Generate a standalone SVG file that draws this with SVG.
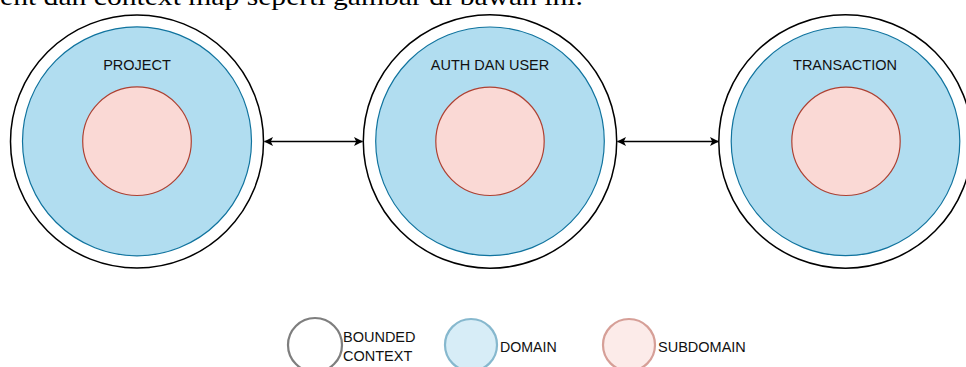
<svg xmlns="http://www.w3.org/2000/svg" width="966" height="367" viewBox="0 0 966 367">
<style>
.bc{fill:#ffffff;stroke:#000000;stroke-width:1.5}
.dom{fill:#b1ddf0;stroke:#10739e;stroke-width:1.2}
.sub{fill:#fad9d5;stroke:#ae4132;stroke-width:1.2}
.lbl{font-family:"Liberation Sans",Arial,sans-serif;font-size:14.5px;fill:#111111}
.conn{stroke:#000000;stroke-width:1.3;fill:none}
.leg{opacity:0.5}
</style>
<defs>
<marker id="arr" viewBox="0 0 10 10" refX="9.5" refY="5" markerWidth="9" markerHeight="9" markerUnits="userSpaceOnUse" orient="auto-start-reverse">
<path d="M0,0 L10,5 L0,10 L2.5,5 Z" fill="#000000"/>
</marker>
</defs>
<rect width="966" height="367" fill="#ffffff"/>
<text x="0" y="5" font-family="'Liberation Serif','Times New Roman',serif" font-size="25" fill="#000000" textLength="583" lengthAdjust="spacingAndGlyphs">ent dan context map seperti gambar di bawah ini.</text>
<g id="project">
<circle class="bc" cx="137" cy="141.5" r="126.5"/>
<circle class="dom" cx="137" cy="141.3" r="114.5"/>
<circle class="sub" cx="137" cy="141.2" r="54.3"/>
<text class="lbl" x="137" y="69.5" text-anchor="middle">PROJECT</text>
</g>
<g id="auth">
<circle class="bc" cx="490" cy="141.5" r="126.7"/>
<circle class="dom" cx="490" cy="141.3" r="114.3"/>
<circle class="sub" cx="490" cy="141.3" r="54.2"/>
<text class="lbl" x="490" y="69.5" text-anchor="middle">AUTH DAN USER</text>
</g>
<g id="transaction">
<circle class="bc" cx="845.5" cy="141.5" r="126.7"/>
<circle class="dom" cx="845.5" cy="141.3" r="114.3"/>
<circle class="sub" cx="846" cy="141.3" r="54.2"/>
<text class="lbl" x="845" y="69.5" text-anchor="middle">TRANSACTION</text>
</g>
<g id="connectors">
<line class="conn" x1="264.5" y1="141.5" x2="362.5" y2="141.5" marker-start="url(#arr)" marker-end="url(#arr)"/>
<line class="conn" x1="617.5" y1="141.5" x2="718.5" y2="141.5" marker-start="url(#arr)" marker-end="url(#arr)"/>
</g>
<g id="legend-bounded">
<circle class="bc leg" cx="315" cy="345" r="27" style="stroke-width:2.2"/>
<text class="lbl" x="343" y="341.5" style="font-size:14.5px">BOUNDED</text>
<text class="lbl" x="343" y="360.5" style="font-size:14.5px">CONTEXT</text>
</g>
<g id="legend-domain">
<circle class="dom leg" cx="471" cy="345" r="26" style="stroke-width:2.2"/>
<text class="lbl" x="500" y="352" style="font-size:14.2px">DOMAIN</text>
</g>
<g id="legend-subdomain">
<circle class="sub leg" cx="629" cy="345" r="26" style="stroke-width:2.2"/>
<text class="lbl" x="658" y="352" style="font-size:14.5px">SUBDOMAIN</text>
</g>
</svg>
